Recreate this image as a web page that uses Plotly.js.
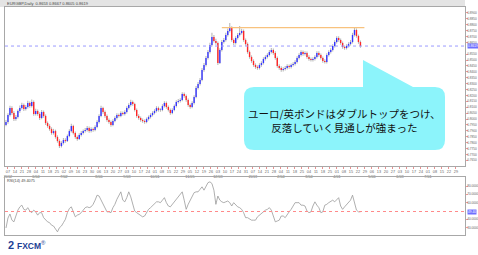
<!DOCTYPE html>
<html><head><meta charset="utf-8">
<script src="https://cdn.plot.ly/plotly-3.0.1.min.js"></script>
<style>html,body{margin:0;padding:0;background:#fff}#c{width:478px;height:255px}</style>
</head><body><div id="c"></div>
<script>
// ---- data ----
const openP = [
0.7950,0.7975,0.8034,0.8093,0.8051,0.8000,0.8017,0.8068,0.8093,0.8119,
0.8085,0.8102,0.8136,0.8110,0.8144,0.8043,0.8068,0.8043,0.8009,0.8060,
0.8026,0.7966,0.7941,0.7915,0.7881,0.7898,0.7848,0.7814,0.7771,0.7797,
0.7822,0.7814,0.7856,0.7898,0.7941,0.7881,0.7848,0.7831,0.7865,0.7881,
0.7898,0.7907,0.7924,0.7898,0.7915,0.7907,0.7932,0.7975,0.8026,0.8093,
0.8060,0.8026,0.7992,0.7975,0.7949,0.7983,0.8009,0.8034,0.8026,0.8051,
0.8043,0.8060,0.8093,0.8119,0.8144,0.8127,0.8077,0.8026,0.8009,0.7992,
0.7983,0.7975,0.8000,0.8017,0.8034,0.8051,0.8068,0.8093,0.8077,0.8077,
0.8110,0.8136,0.8102,0.8077,0.8051,0.8077,0.8110,0.8144,0.8153,0.8161,
0.8212,0.8195,0.8161,0.8119,0.8102,0.8136,0.8187,0.8263,0.8297,0.8331,
0.8416,0.8458,0.8518,0.8568,0.8628,0.8696,0.8662,0.8645,0.8475,0.8585,
0.8653,0.8670,0.8713,0.8747,0.8772,0.8670,0.8645,0.8687,0.8713,0.8730,
0.8747,0.8670,0.8636,0.8568,0.8526,0.8492,0.8458,0.8441,0.8433,0.8458,
0.8475,0.8509,0.8526,0.8543,0.8568,0.8585,0.8560,0.8518,0.8450,0.8433,
0.8416,0.8424,0.8433,0.8450,0.8441,0.8458,0.8467,0.8484,0.8518,0.8543,
0.8568,0.8551,0.8560,0.8526,0.8509,0.8501,0.8509,0.8526,0.8560,0.8543,
0.8518,0.8492,0.8484,0.8543,0.8568,0.8585,0.8619,0.8653,0.8687,0.8670,
0.8645,0.8611,0.8602,0.8619,0.8636,0.8653,0.8713,0.8755,0.8704,0.8653];
const closeP = [
0.7975,0.8034,0.8093,0.8051,0.8000,0.8017,0.8068,0.8093,0.8119,0.8085,
0.8102,0.8136,0.8110,0.8144,0.8043,0.8068,0.8043,0.8009,0.8060,0.8026,
0.7966,0.7941,0.7915,0.7881,0.7898,0.7848,0.7814,0.7771,0.7797,0.7822,
0.7814,0.7856,0.7898,0.7941,0.7881,0.7848,0.7831,0.7865,0.7881,0.7898,
0.7907,0.7924,0.7898,0.7915,0.7907,0.7932,0.7975,0.8026,0.8093,0.8060,
0.8026,0.7992,0.7975,0.7949,0.7983,0.8009,0.8034,0.8026,0.8051,0.8043,
0.8060,0.8093,0.8119,0.8144,0.8127,0.8077,0.8026,0.8009,0.7992,0.7983,
0.7975,0.8000,0.8017,0.8034,0.8051,0.8068,0.8093,0.8077,0.8077,0.8110,
0.8136,0.8102,0.8077,0.8051,0.8077,0.8110,0.8144,0.8153,0.8161,0.8212,
0.8195,0.8161,0.8119,0.8102,0.8136,0.8187,0.8263,0.8297,0.8331,0.8416,
0.8458,0.8518,0.8568,0.8628,0.8696,0.8662,0.8645,0.8475,0.8585,0.8653,
0.8670,0.8713,0.8747,0.8772,0.8670,0.8645,0.8687,0.8713,0.8730,0.8747,
0.8670,0.8636,0.8568,0.8526,0.8492,0.8458,0.8441,0.8433,0.8458,0.8475,
0.8509,0.8526,0.8543,0.8568,0.8585,0.8560,0.8518,0.8450,0.8433,0.8416,
0.8424,0.8433,0.8450,0.8441,0.8458,0.8467,0.8484,0.8518,0.8543,0.8568,
0.8551,0.8560,0.8526,0.8509,0.8501,0.8509,0.8526,0.8560,0.8543,0.8518,
0.8492,0.8484,0.8543,0.8568,0.8585,0.8619,0.8653,0.8687,0.8670,0.8645,
0.8611,0.8602,0.8619,0.8636,0.8653,0.8713,0.8755,0.8704,0.8653,0.8619];
const highP = [
0.7992,0.8049,0.8112,0.8108,0.8066,0.8035,0.8080,0.8114,0.8138,0.8131,
0.8120,0.8155,0.8149,0.8166,0.8158,0.8087,0.8081,0.8057,0.8076,0.8073,
0.8038,0.7980,0.7955,0.7930,0.7917,0.7910,0.7862,0.7828,0.7812,0.7840,
0.7838,0.7870,0.7914,0.7960,0.7952,0.7894,0.7861,0.7879,0.7898,0.7912,
0.7925,0.7941,0.7937,0.7930,0.7929,0.7948,0.7990,0.8041,0.8112,0.8105,
0.8072,0.8039,0.8005,0.7988,0.7998,0.8024,0.8050,0.8048,0.8066,0.8064,
0.8075,0.8108,0.8134,0.8163,0.8158,0.8139,0.8090,0.8040,0.8022,0.8005,
0.7997,0.8014,0.8031,0.8049,0.8066,0.8083,0.8109,0.8106,0.8092,0.8125,
0.8152,0.8148,0.8115,0.8090,0.8092,0.8124,0.8159,0.8170,0.8177,0.8228,
0.8226,0.8208,0.8174,0.8132,0.8151,0.8202,0.8280,0.8315,0.8349,0.8432,
0.8476,0.8535,0.8586,0.8647,0.8732,0.8712,0.8680,0.8658,0.8601,0.8670,
0.8688,0.8731,0.8768,0.8814,0.8786,0.8684,0.8703,0.8729,0.8789,0.8766,
0.8760,0.8684,0.8650,0.8582,0.8540,0.8506,0.8472,0.8455,0.8473,0.8490,
0.8524,0.8541,0.8558,0.8585,0.8603,0.8598,0.8574,0.8531,0.8464,0.8447,
0.8440,0.8449,0.8465,0.8463,0.8472,0.8482,0.8499,0.8533,0.8558,0.8584,
0.8582,0.8575,0.8572,0.8540,0.8522,0.8524,0.8541,0.8575,0.8574,0.8556,
0.8531,0.8506,0.8558,0.8583,0.8600,0.8634,0.8669,0.8703,0.8701,0.8683,
0.8658,0.8624,0.8634,0.8651,0.8670,0.8731,0.8780,0.8768,0.8716,0.8667];
const lowP = [
0.7938,0.7961,0.8022,0.8037,0.7984,0.7986,0.8005,0.8054,0.8080,0.8069,
0.8072,0.8090,0.8096,0.8098,0.8028,0.8030,0.8029,0.7993,0.7998,0.8011,
0.7950,0.7926,0.7900,0.7867,0.7868,0.7834,0.7800,0.7755,0.7758,0.7785,
0.7800,0.7805,0.7845,0.7887,0.7870,0.7833,0.7817,0.7822,0.7853,0.7868,
0.7885,0.7895,0.7884,0.7886,0.7893,0.7896,0.7921,0.7962,0.8015,0.8046,
0.8012,0.7978,0.7961,0.7934,0.7938,0.7972,0.7997,0.8013,0.8015,0.8030,
0.8031,0.8048,0.8081,0.8107,0.8112,0.8063,0.8012,0.7995,0.7978,0.7969,
0.7960,0.7964,0.7988,0.8005,0.8022,0.8039,0.8056,0.8063,0.8062,0.8066,
0.8098,0.8088,0.8063,0.8037,0.8040,0.8066,0.8098,0.8131,0.8140,0.8150,
0.8181,0.8147,0.8104,0.8088,0.8091,0.8124,0.8176,0.8250,0.8284,0.8320,
0.8402,0.8445,0.8505,0.8556,0.8615,0.8648,0.8630,0.8458,0.8466,0.8572,
0.8640,0.8658,0.8700,0.8734,0.8655,0.8628,0.8632,0.8674,0.8700,0.8716,
0.8655,0.8621,0.8553,0.8511,0.8477,0.8443,0.8426,0.8418,0.8420,0.8444,
0.8462,0.8496,0.8513,0.8530,0.8555,0.8546,0.8503,0.8436,0.8418,0.8401,
0.8404,0.8411,0.8420,0.8427,0.8429,0.8445,0.8454,0.8471,0.8505,0.8531,
0.8537,0.8538,0.8512,0.8495,0.8487,0.8489,0.8496,0.8514,0.8529,0.8504,
0.8478,0.8470,0.8472,0.8530,0.8556,0.8573,0.8607,0.8641,0.8656,0.8631,
0.8597,0.8588,0.8590,0.8607,0.8624,0.8641,0.8700,0.8690,0.8638,0.8605];
const rsiV = [
29.6,41.6,46.4,39,37,45,51,55,57,52,
51,54,50,48,51,49,45,48,48,42,
39,37,36,33,32,28,25,30,32,36,
40,48,53,55,48,43,45,46,48,51,
54,55,54,55,58,63,69,68,63,57,
52,49,49,48,54,58,64,69,73,63,
61,66,73,67,57,50,48,46,45,43,
44,49,52,54,56,59,61,61,60,63,
66,60,56,55,58,61,63,66,69,73,
63,52,58,63,68,72,73,73,76,79,
75,80,84,85,83,75,58,68,63,61,
60,61,62,60,56,60,57,55,54,52,
48,42,42,40,39,39,39,43,45,48,
50,51,52,54,51,45,37,38,39,44,
44,42,46,49,52,57,60,60,60,57,
57,56,50,48,49,56,61,57,54,48,
49,57,58,60,62,63,61,63,66,56,
52,55,58,61,63,69,58,51,49,49];
const weekDays = ['07','14','21','28','04','11','18','25','02','09','16','23','30','06','13','20','27','03','10','17','24','01','08','15','22','29','05','12','19','26','03','10','17','24','31','07','14','21','28','04','11','18','25','04','11','18','25','01','08','15','22','29','06','13','20','27','03','10','17','24','01','08','15','22','29'];
const monthRow = {0:'2012',4:'6/04',8:'7/02',13:'8/06',17:'9/03',21:'10/01',26:'11/05',30:'12/03',35:'2013',39:'2/04',43:'3/04',47:'4/01',52:'5/06',56:'6/03',60:'7/01'};
const priceTicks = [0.765,0.770,0.775,0.780,0.785,0.790,0.795,0.800,0.805,0.810,0.815,0.820,0.825,0.830,0.835,0.840,0.845,0.850,0.855,0.865,0.870,0.875,0.880,0.885,0.890];
const rsiTicks = [30,40,60,70,80];
const doubleTopLevel = 0.8775, doubleTopFrom = 109, doubleTopTo = 181;
const rsiLevel = 49.4;
const calloutLines = ['ユーロ/英ポンドはダブルトップをつけ、','反落していく見通しが強まった'];

// ---- build ----
const W = 478, H = 255;
const idx = closeP.map((_, i) => i);
const last = closeP.length - 1;
const bodyBase = closeP.map((c, i) => Math.min(c, openP[i]));
const bodyLen = closeP.map((c, i) => Math.max(Math.abs(c - openP[i]), 0.0004));
const bodyCol = closeP.map((c, i) => c >= openP[i] ? '#3434ff' : '#ff2626');
const wickLen = highP.map((h, i) => h - lowP[i]);
const tickvals = weekDays.map((_, k) => 1 + k * 3.535);
const ticktext = weekDays.map((d, k) => d + '<br>' + (monthRow[k] || '\u00a0'));
const px = x => x / W, py = y => 1 - y / H;
const xdom = [px(5), px(465)];

const traces = [
  {type:'bar', x:idx, base:lowP, y:wickLen, width:0.55,
   marker:{color:'#b8b8b8', line:{width:0}}, hoverinfo:'skip', showlegend:false, xaxis:'x', yaxis:'y'},
  {type:'bar', x:idx, base:bodyBase, y:bodyLen, width:0.7,
   marker:{color:bodyCol, line:{width:0}}, hoverinfo:'skip', showlegend:false, xaxis:'x', yaxis:'y'},
  {type:'scatter', mode:'lines', x:idx, y:rsiV, line:{color:'#9a9a9a', width:0.8},
   hoverinfo:'skip', showlegend:false, xaxis:'x2', yaxis:'y2'}
];

const ax = {showgrid:false, zeroline:false, showline:true, mirror:true, linecolor:'#a8a8a8', linewidth:1};
const sf = {family:'Liberation Sans Narrow, Liberation Sans, Arial, sans-serif', size:3.2, color:'#666'};

// callout path
const L=244, R=445, T=87, B=150, r=10, tipX=363, tipY=60, baseR=413;
const pt = (x,y) => px(x)+','+py(y);
const calloutPath = 'M'+pt(L+r,T)+' L'+pt(tipX,T)+' L'+pt(tipX,tipY)+' L'+pt(baseR,T)+' L'+pt(R-r,T)+
  ' Q'+pt(R,T)+' '+pt(R,T+r)+' L'+pt(R,B-r)+' Q'+pt(R,B)+' '+pt(R-r,B)+' L'+pt(L+r,B)+
  ' Q'+pt(L,B)+' '+pt(L,B-r)+' L'+pt(L,T+r)+' Q'+pt(L,T)+' '+pt(L+r,T)+' Z';

const layout = {
  width:W, height:H, margin:{l:0,r:0,t:0,b:0}, paper_bgcolor:'#fff', plot_bgcolor:'#fff',
  showlegend:false, barmode:'overlay', dragmode:false,
  xaxis:Object.assign({}, ax, {domain:xdom, anchor:'y', range:[-0.5,231.8],
    tickmode:'array', tickvals:tickvals, ticktext:ticktext, tickangle:0, ticks:'outside', ticklen:1.5,
    tickcolor:'#e89090', tickfont:{family:'Liberation Sans, Arial, sans-serif', size:3.8, color:'#666'}}),
  yaxis:Object.assign({}, ax, {domain:[py(166), py(7)], anchor:'x', side:'right', range:[0.7602,0.8950],
    tickmode:'array', tickvals:priceTicks, tickformat:'.4f', ticks:'outside', ticklen:1.5, tickcolor:'#f09a9a',
    ticklabelstandoff:-1, tickfont:sf}),
  xaxis2:Object.assign({}, ax, {domain:xdom, anchor:'y2', range:[-0.5,231.8], showticklabels:false, ticks:''}),
  yaxis2:Object.assign({}, ax, {domain:[py(235), py(177)], anchor:'x2', side:'right', range:[21.2,90.8],
    tickmode:'array', tickvals:rsiTicks, tickformat:'.4f', ticks:'outside', ticklen:1.5,
    tickcolor:'#f09a9a', ticklabelstandoff:-1, tickfont:sf}),
  shapes:[
    {type:'rect', xref:'paper', yref:'paper', x0:0, x1:px(465), y0:py(7), y1:1, fillcolor:'#e4e4e4', line:{width:0}, layer:'below'},
    {type:'line', xref:'paper', yref:'y', x0:xdom[0], x1:xdom[1], y0:closeP[last], y1:closeP[last],
     line:{color:'#9a9aff', width:1, dash:'dot'}},
    {type:'line', xref:'x', yref:'y', x0:doubleTopFrom, x1:doubleTopTo, y0:doubleTopLevel, y1:doubleTopLevel,
     line:{color:'#f8c27e', width:1.2}},
    {type:'line', xref:'paper', yref:'y2', x0:xdom[0], x1:xdom[1], y0:rsiLevel, y1:rsiLevel,
     line:{color:'#ff8a8a', width:1, dash:'dot'}},
    {type:'path', xref:'paper', yref:'paper', path:calloutPath, fillcolor:'#8cf4fb', line:{width:0}}
  ],
  annotations:[
    {xref:'paper', yref:'paper', x:px(5), y:py(3.5), xanchor:'left', yanchor:'middle', showarrow:false,
     text:'EURGBP,Daily  0.8653 0.8667 0.8605 0.8619', font:{family:'Liberation Sans, Arial', size:4, color:'#444'}},
    {xref:'paper', yref:'paper', x:px(5), y:py(180.5), xanchor:'left', yanchor:'middle', showarrow:false,
     text:'RSI(14) 49.4075', font:{family:'Liberation Sans, Arial', size:3.8, color:'#444'}},
    {xref:'paper', yref:'y', x:px(467), y:closeP[last], xanchor:'left', yanchor:'middle', showarrow:false,
     text:closeP[last].toFixed(4), bgcolor:'#6f6fff', borderpad:0, font:{family:'Liberation Sans Narrow, Liberation Sans, Arial', size:3.2, color:'#fff'}},
    {xref:'paper', yref:'y2', x:px(467), y:rsiLevel, xanchor:'left', yanchor:'middle', showarrow:false,
     text:rsiLevel.toFixed(2), bgcolor:'#6f6fff', borderpad:0, font:{family:'Liberation Sans Narrow, Liberation Sans, Arial', size:3.2, color:'#fff'}},
    {xref:'paper', yref:'paper', x:px(344.5), y:py(120), xanchor:'center', yanchor:'middle', showarrow:false,
     align:'center', text:calloutLines.join('<br>'),
     font:{family:'Noto Sans CJK JP, sans-serif', size:10.5, color:'#111'}},
    {xref:'paper', yref:'paper', x:px(6), y:py(245), xanchor:'left', yanchor:'middle', showarrow:false,
     text:'<b>2</b>', font:{family:'Liberation Sans, Arial', size:11, color:'#1d3f95'}},
    {xref:'paper', yref:'paper', x:px(15), y:py(245), xanchor:'left', yanchor:'middle', showarrow:false,
     text:'<b>FXCM</b><sup>®</sup>', font:{family:'Liberation Sans, Arial', size:8.5, color:'#1d3f95'}}
  ]
};
Plotly.newPlot('c', traces, layout, {staticPlot:true, displayModeBar:false});
</script></body></html>
